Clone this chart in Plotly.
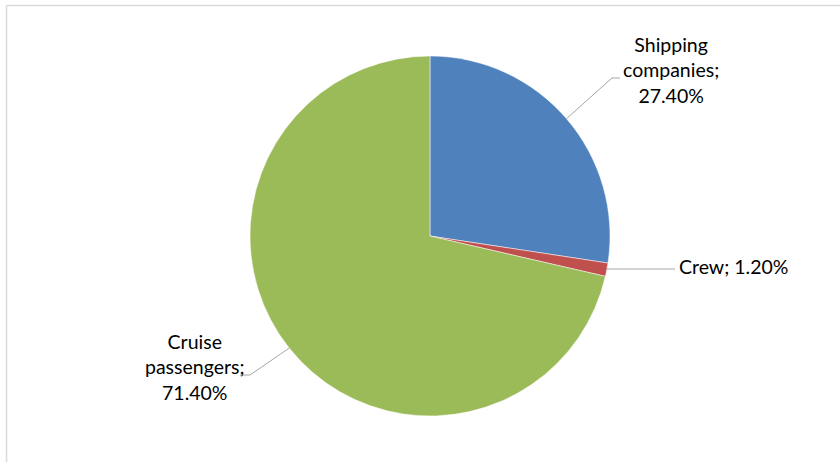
import numpy as np
import plotly.graph_objects as go

labels = ["Shipping companies", "Crew", "Cruise passengers"]
values = [27.4, 1.2, 71.4]
colors = ["#4F81BD", "#C0504D", "#9BBB59"]
label_texts = ["Shipping<br>companies;<br>27.40%", "Crew; 1.20%", "Cruise<br>passengers;<br>71.40%"]

W, H = 840, 462
cx, cy, R = 430, 236, 180

fig = go.Figure(go.Pie(
    labels=labels, values=values, sort=False, direction="clockwise", rotation=0,
    marker=dict(colors=colors, line=dict(color="white", width=0.5)),
    textinfo="none", hoverinfo="label+percent", showlegend=False,
    domain=dict(x=[(cx - R) / W, (cx + R) / W], y=[(H - cy - R) / H, (H - cy + R) / H]),
))

def px(x, y):
    return x / W, 1 - y / H

# mid angles of slices (clockwise from 12 o'clock)
tot = sum(values)
cum = np.cumsum([0] + values[:-1])
mids = [(c + v / 2) / tot * 360 for c, v in zip(cum, values)]
edge = [(cx + R * np.sin(np.radians(a)), cy - R * np.cos(np.radians(a))) for a in mids]

# leader line elbows and text anchors (pixel layout)
elbows = [((612, 78), (620, 78)), ((607, 269), (675, 269)), ((250, 375), (240, 375))]
text_pos = [(671, 70, "center", "middle"), (677, 266, "left", "middle"), (195, 367, "center", "middle")]

shapes = []
for (ex, ey), ((bx, by), (tx, ty)) in zip(edge, elbows):
    x0, y0 = px(ex, ey)
    x1, y1 = px(bx, by)
    x2, y2 = px(tx, ty)
    shapes.append(dict(type="path", xref="paper", yref="paper",
                       path=f"M {x0},{y0} L {x1},{y1} L {x2},{y2}",
                       line=dict(color="#A6A6A6", width=1)))

# chart border (top and left visible)
shapes.append(dict(type="line", xref="paper", yref="paper", x0=6.5 / W, x1=1.0, y0=1 - 5.5 / H, y1=1 - 5.5 / H,
                   line=dict(color="#D9D9D9", width=1.5)))
shapes.append(dict(type="line", xref="paper", yref="paper", x0=6.5 / W, x1=6.5 / W, y0=0, y1=1 - 5.5 / H,
                   line=dict(color="#D9D9D9", width=1.5)))

annotations = []
for t, (x, y, xa, ya) in zip(label_texts, text_pos):
    xp, yp = px(x, y)
    annotations.append(dict(x=xp, y=yp, xref="paper", yref="paper", text=t, showarrow=False,
                            xanchor=xa, yanchor=ya, align="center",
                            font=dict(family="Lato, Carlito, Calibri, sans-serif", size=19.5, color="#000000")))

fig.update_layout(
    width=W, height=H, margin=dict(l=0, r=0, t=0, b=0),
    paper_bgcolor="white", plot_bgcolor="white",
    shapes=shapes, annotations=annotations,
)

fig.write_html("out.html", config={"displayModeBar": False},
               post_script="document.body.style.margin='0';document.body.style.overflow='hidden';")
